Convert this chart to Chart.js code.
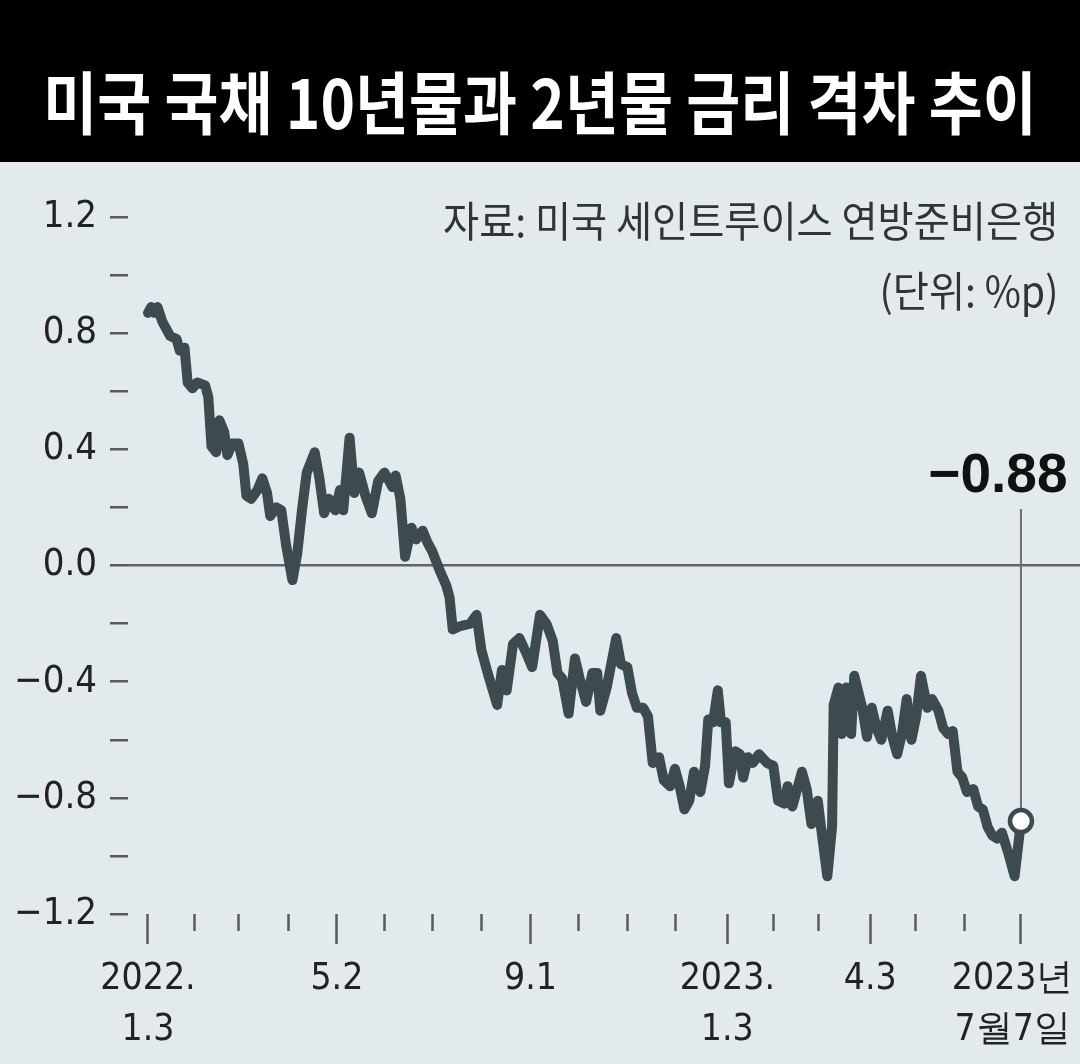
<!DOCTYPE html>
<html><head><meta charset="utf-8">
<script src="https://cdn.jsdelivr.net/npm/chart.js@4"></script>
<style>
html,body{margin:0;padding:0;background:#e3eaed;}
#wrap{position:relative;width:1080px;height:1064px;overflow:hidden;background:#e3eaed;}
#title{position:absolute;left:0;top:0;width:1080px;height:162px;background:#000;}
#title span{position:absolute;left:540px;top:66px;white-space:nowrap;color:#fff;font-family:"Noto Sans CJK KR";font-weight:700;font-size:68px;line-height:68px;transform-origin:center center;}
.src{position:absolute;right:22px;white-space:nowrap;color:#333;font-family:"Noto Sans CJK KR";font-weight:400;font-size:42px;line-height:42px;transform-origin:right center;}
#cv{position:absolute;left:0;top:0;}
</style></head>
<body>
<div id="wrap">
  <canvas id="cv" width="1080" height="1064"></canvas>
  <div id="title"><span id="tt">미국 국채 10년물과 2년물 금리 격차 추이</span></div>
  <div class="src" id="s1" style="top:198px">자료: 미국 세인트루이스 연방준비은행</div>
  <div class="src" id="s2" style="top:268px">(단위: %p)</div>
</div>
<script>
// ---- data (days since 2022-01-03, 10Y-2Y spread in %p) ----
const days = [0,2,4,6,9,14,18,20,23,25,28,31,36,38,40,43,45,48,50,53,57,60,62,65,69,72,75,77,81,84,87,91,94,97,100,105,108,111,114,118,121,123,127,130,133,137,141,145,149,154,156,159,162,166,169,173,176,179,184,188,190,192,196,203,207,210,214,220,223,226,230,234,239,242,247,251,255,258,261,265,269,272,276,280,283,285,289,295,298,302,305,308,312,315,318,322,325,329,332,335,338,341,344,348,351,353,356,359,361,364,366,370,373,375,378,381,385,390,394,397,401,403,406,412,415,418,422,424,428,431,432,435,437,440,443,445,450,453,456,459,462,466,469,472,475,478,481,484,487,491,494,498,501,504,507,510,513,516,520,523,526,529,532,535,538,542,546,550];
const spread = [0.87,0.89,0.87,0.89,0.84,0.79,0.78,0.74,0.75,0.63,0.61,0.63,0.62,0.58,0.41,0.39,0.50,0.46,0.38,0.42,0.42,0.35,0.24,0.23,0.26,0.30,0.25,0.17,0.20,0.19,0.07,-0.05,0.04,0.19,0.32,0.39,0.30,0.18,0.23,0.19,0.26,0.19,0.44,0.25,0.32,0.24,0.18,0.29,0.32,0.27,0.31,0.23,0.03,0.13,0.09,0.12,0.08,0.05,-0.02,-0.07,-0.11,-0.22,-0.21,-0.20,-0.17,-0.29,-0.37,-0.48,-0.36,-0.43,-0.27,-0.25,-0.31,-0.35,-0.17,-0.20,-0.26,-0.37,-0.39,-0.51,-0.32,-0.39,-0.47,-0.37,-0.37,-0.50,-0.42,-0.25,-0.34,-0.35,-0.44,-0.49,-0.49,-0.52,-0.68,-0.66,-0.74,-0.76,-0.70,-0.76,-0.84,-0.81,-0.71,-0.78,-0.69,-0.53,-0.54,-0.43,-0.54,-0.54,-0.75,-0.64,-0.65,-0.73,-0.66,-0.68,-0.65,-0.68,-0.69,-0.81,-0.82,-0.76,-0.83,-0.71,-0.77,-0.89,-0.81,-0.90,-1.07,-0.90,-0.48,-0.42,-0.58,-0.42,-0.58,-0.38,-0.49,-0.59,-0.49,-0.56,-0.60,-0.50,-0.59,-0.65,-0.58,-0.46,-0.60,-0.52,-0.38,-0.49,-0.46,-0.50,-0.56,-0.58,-0.57,-0.71,-0.73,-0.78,-0.77,-0.83,-0.84,-0.90,-0.93,-0.94,-0.92,-0.99,-1.07,-0.88];
const majorTickDays = [0,119,241,365,455,550];
const majorTickLabels = [["2022.","1.3"],["5.2"],["9.1"],["2023.","1.3"],["4.3"],["2023년","7월7일"]];
const minorTickDays = [29,57,88,149,179,210,271,302,332,394,422,483,514];
const lastLabel = "−0.88";

// ---- font detection ----
function hasFont(name){
  const c=document.createElement('canvas').getContext('2d');
  const s='2022.1.3 0.8 abcWm';
  c.font='40px monospace'; const a=c.measureText(s).width;
  c.font='40px "'+name+'", monospace'; const b=c.measureText(s).width;
  return Math.abs(a-b)>0.5;
}
let axisFam, axisSize, xSize;
if (hasFont('Liberation Sans Narrow')) { axisFam='"Liberation Sans Narrow"'; axisSize=45; xSize=45; }
else if (hasFont('DejaVu Sans Condensed')) { axisFam='"DejaVu Sans Condensed"'; axisSize=38; xSize=37; }
else { axisFam='"Liberation Sans", Arial'; axisSize=40; xSize=38; }

// ---- fit header texts ----
const tt=document.getElementById('tt');
const ts=993/tt.offsetWidth;
tt.style.transform='translateX(-50%) scaleX('+ts+')';
const s1=document.getElementById('s1'), s2=document.getElementById('s2');
const ss=615/s1.offsetWidth;
s1.style.transform='scaleX('+ss+')';
s2.style.transform='scaleX('+ss+')';

const lineColor='#3d4a4f';
const tickColor='#555b5e';

const allTicks = majorTickDays.concat(minorTickDays).sort((a,b)=>a-b);

const extras = {
  id:'extras',
  beforeDatasetsDraw(chart){
    const {ctx, scales:{x,y}} = chart;
    const n = days.length-1;
    const px = x.getPixelForValue(days[n]), py = y.getPixelForValue(spread[n]);
    ctx.save();
    ctx.strokeStyle='#6a7073'; ctx.lineWidth=2;
    ctx.beginPath(); ctx.moveTo(px, py); ctx.lineTo(px, py-312); ctx.stroke();
    ctx.restore();
  },
  afterDraw(chart){
    const {ctx, scales:{x,y}, chartArea} = chart;
    ctx.save();
    ctx.strokeStyle=tickColor; ctx.lineWidth=2.5;
    minorTickDays.forEach(d=>{
      const px = Math.round(x.getPixelForValue(d))+0.5;
      ctx.beginPath(); ctx.moveTo(px, chartArea.bottom); ctx.lineTo(px, chartArea.bottom+17); ctx.stroke();
    });
    const n = days.length-1;
    const px = x.getPixelForValue(days[n]), py = y.getPixelForValue(spread[n]);
    ctx.fillStyle='#111';
    ctx.font='bold 55px "Liberation Sans", Arial';
    ctx.textAlign='center'; ctx.textBaseline='alphabetic';
    ctx.fillText(lastLabel, px-23, py-329);
    ctx.restore();
  }
};

new Chart(document.getElementById('cv'), {
  type:'line',
  data:{ datasets:[{
    data: days.map((d,i)=>({x:d, y:spread[i]})),
    borderColor: lineColor,
    borderWidth: 10,
    borderJoinStyle:'round',
    borderCapStyle:'round',
    tension:0,
    pointRadius:(c)=> c.dataIndex===days.length-1 ? 11 : 0,
    pointHoverRadius:0,
    pointBackgroundColor:'#ffffff',
    pointBorderColor: lineColor,
    pointBorderWidth:4.5,
    clip:false
  }]},
  options:{
    responsive:false,
    animation:false,
    devicePixelRatio:1,
    layout:{ autoPadding:false, padding:{ top:217, right:0, bottom:0, left:0 } },
    plugins:{ legend:{display:false}, tooltip:{enabled:false}, title:{display:false} },
    scales:{
      x:{
        type:'linear', min:-12.6, max:587.2,
        afterBuildTicks:(s)=>{ s.ticks = allTicks.map(v=>({value:v})); },
        afterFit:(s)=>{ s.height = 150; s.paddingLeft = 0; s.paddingRight = 0; },
        border:{display:false},
        grid:{ drawOnChartArea:false, drawTicks:true, tickLength:30, tickWidth:2.5,
          tickColor:(c)=> majorTickDays.includes(c.tick && c.tick.value) ? tickColor : 'rgba(0,0,0,0)' },
        ticks:{
          autoSkip:false, maxRotation:0, minRotation:0, padding:10,
          color:'#222', font:{ family:axisFam, size:xSize, lineHeight:1.38 },
          callback:(v)=>{
            const i = majorTickDays.indexOf(v);
            if (i<0) return '';
            // the last label sits at the right edge: pad it so it stays inside the canvas
            return i===majorTickDays.length-1 ? majorTickLabels[i].map(t=>t+'\u2002') : majorTickLabels[i];
          }
        }
      },
      y:{
        type:'linear', min:-1.2, max:1.2,
        afterFit:(s)=>{ s.width = 128; s.paddingTop = 0; s.paddingBottom = 0; },
        border:{display:false},
        grid:{ drawOnChartArea:true, drawTicks:true, tickLength:18, tickWidth:2.5, tickColor:tickColor,
          lineWidth:2.5,
          color:(c)=> (c.tick && Math.abs(c.tick.value)<1e-9) ? '#5f6568' : 'rgba(0,0,0,0)' },
        ticks:{
          stepSize:0.2, padding:13, color:'#222',
          font:{ family:axisFam, size:axisSize },
          callback:(v)=>{ const r=Math.round(v*10); if (r%4!==0) return ''; const t=(Math.abs(r)/10).toFixed(1); return r<0 ? '−'+t : t; }
        }
      }
    }
  },
  plugins:[extras]
});
</script>
</body></html>
